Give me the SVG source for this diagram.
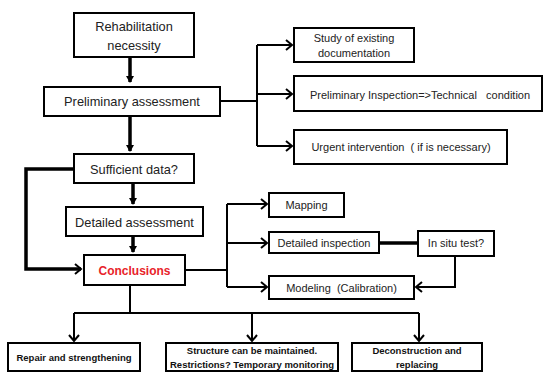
<svg xmlns="http://www.w3.org/2000/svg" width="543" height="372" viewBox="0 0 543 372">
<style>
.box{fill:#fff;stroke:#000;stroke-width:2}
.t{font-family:"Liberation Sans",Arial,sans-serif;font-size:12.8px;fill:#222;text-anchor:middle}
.s{font-size:11px}
.b{font-family:"Liberation Sans",Arial,sans-serif;font-size:9.5px;font-weight:bold;fill:#111;text-anchor:middle}
.red{fill:#e8232a;font-weight:bold;font-size:12px}
.ln{fill:none;stroke:#000;stroke-width:2}
.thick{fill:none;stroke:#000;stroke-width:3.5}
</style>
<defs>
<marker id="tri" markerWidth="8" markerHeight="8" refX="6" refY="4" orient="auto" markerUnits="userSpaceOnUse">
<path d="M0,0 L7,4 L0,8 Z" fill="#000"/>
</marker>
<marker id="chev" markerWidth="10" markerHeight="12" refX="8" refY="6" orient="auto" markerUnits="userSpaceOnUse">
<polyline points="2,1 8,6 2,11" fill="none" stroke="#000" stroke-width="2"/>
</marker>
</defs>
<g id="connectors">
<path class="thick" d="M130,57 V82" marker-end="url(#tri)"/>
<path class="thick" d="M130,116 V151" marker-end="url(#tri)"/>
<path class="thick" d="M133,183 V204" marker-end="url(#tri)"/>
<path class="thick" d="M133,236 V252" marker-end="url(#tri)"/>
<path class="ln" d="M220,101 H257"/>
<path class="ln" d="M257,45 V146"/>
<path class="ln" d="M257,45 H292" marker-end="url(#chev)"/>
<path class="ln" d="M257,94 H292" marker-end="url(#chev)"/>
<path class="ln" d="M257,146 H292" marker-end="url(#chev)"/>
<path class="thick" d="M74,169 H26 V269 H81" marker-end="url(#chev)"/>
<path class="ln" d="M185,270 H227"/>
<path class="ln" d="M227,204 V287"/>
<path class="ln" d="M227,204 H267" marker-end="url(#chev)"/>
<path class="ln" d="M227,243 H267" marker-end="url(#chev)"/>
<path class="ln" d="M227,287 H267" marker-end="url(#chev)"/>
<path class="thick" d="M379,243 H418"/>
<path class="ln" d="M455,256 V287 H416" marker-end="url(#chev)"/>
<path class="ln" d="M130,285 V313"/>
<path class="ln" d="M74,313 H419"/>
<path class="ln" d="M74,313 V341" marker-end="url(#chev)"/>
<path class="ln" d="M252,313 V341" marker-end="url(#chev)"/>
<path class="ln" d="M419,313 V341" marker-end="url(#chev)"/>
</g>
<g id="rehab">
<rect class="box" x="74" y="13" width="120" height="44"/>
<text class="t" x="134" y="31">Rehabilitation</text>
<text class="t" x="134" y="50">necessity</text>
</g>
<g id="prelim">
<rect class="box" x="44" y="87" width="176" height="29"/>
<text class="t" x="132" y="106">Preliminary assessment</text>
</g>
<g id="study">
<rect class="box" x="294" y="28" width="120" height="34"/>
<text class="t s" x="354" y="42">Study of existing</text>
<text class="t s" x="354" y="57">documentation</text>
</g>
<g id="inspection">
<rect class="box" x="294" y="76" width="248" height="35"/>
<text class="t s" x="420" y="99" xml:space="preserve">Preliminary Inspection=&gt;Technical   condition</text>
</g>
<g id="urgent">
<rect class="box" x="294" y="130" width="213" height="34"/>
<text class="t s" x="401" y="151" xml:space="preserve">Urgent intervention  ( if is necessary)</text>
</g>
<g id="sufficient">
<rect class="box" x="74" y="154" width="120" height="29"/>
<text class="t" x="134" y="174">Sufficient data?</text>
</g>
<g id="detailed">
<rect class="box" x="66" y="207" width="137" height="29"/>
<text class="t" x="134.5" y="227">Detailed assessment</text>
</g>
<g id="conclusions">
<rect class="box" x="84" y="255" width="101" height="30"/>
<text class="t red" x="134.5" y="275">Conclusions</text>
</g>
<g id="mapping">
<rect class="box" x="269" y="193" width="75" height="24"/>
<text class="t s" x="306.5" y="209">Mapping</text>
</g>
<g id="detinsp">
<rect class="box" x="269" y="232" width="110" height="21"/>
<text class="t s" x="324" y="247">Detailed inspection</text>
</g>
<g id="insitu">
<rect class="box" x="418" y="231" width="76" height="25"/>
<text class="t s" x="456" y="247">In situ test?</text>
</g>
<g id="modeling">
<rect class="box" x="269" y="276" width="145" height="23"/>
<text class="t s" x="341.5" y="292" xml:space="preserve">Modeling  (Calibration)</text>
</g>
<g id="repair">
<rect class="box" x="8" y="343" width="132" height="28"/>
<text class="b" x="74" y="361">Repair and strengthening</text>
</g>
<g id="structure">
<rect class="box" x="166" y="343" width="172" height="28"/>
<text class="b" x="252" y="354">Structure can be maintained.</text>
<text class="b" x="252" y="368">Restrictions? Temporary monitoring</text>
</g>
<g id="decon">
<rect class="box" x="352" y="343" width="130" height="28"/>
<text class="b" x="417" y="354">Deconstruction and</text>
<text class="b" x="417" y="368">replacing</text>
</g>
</svg>
